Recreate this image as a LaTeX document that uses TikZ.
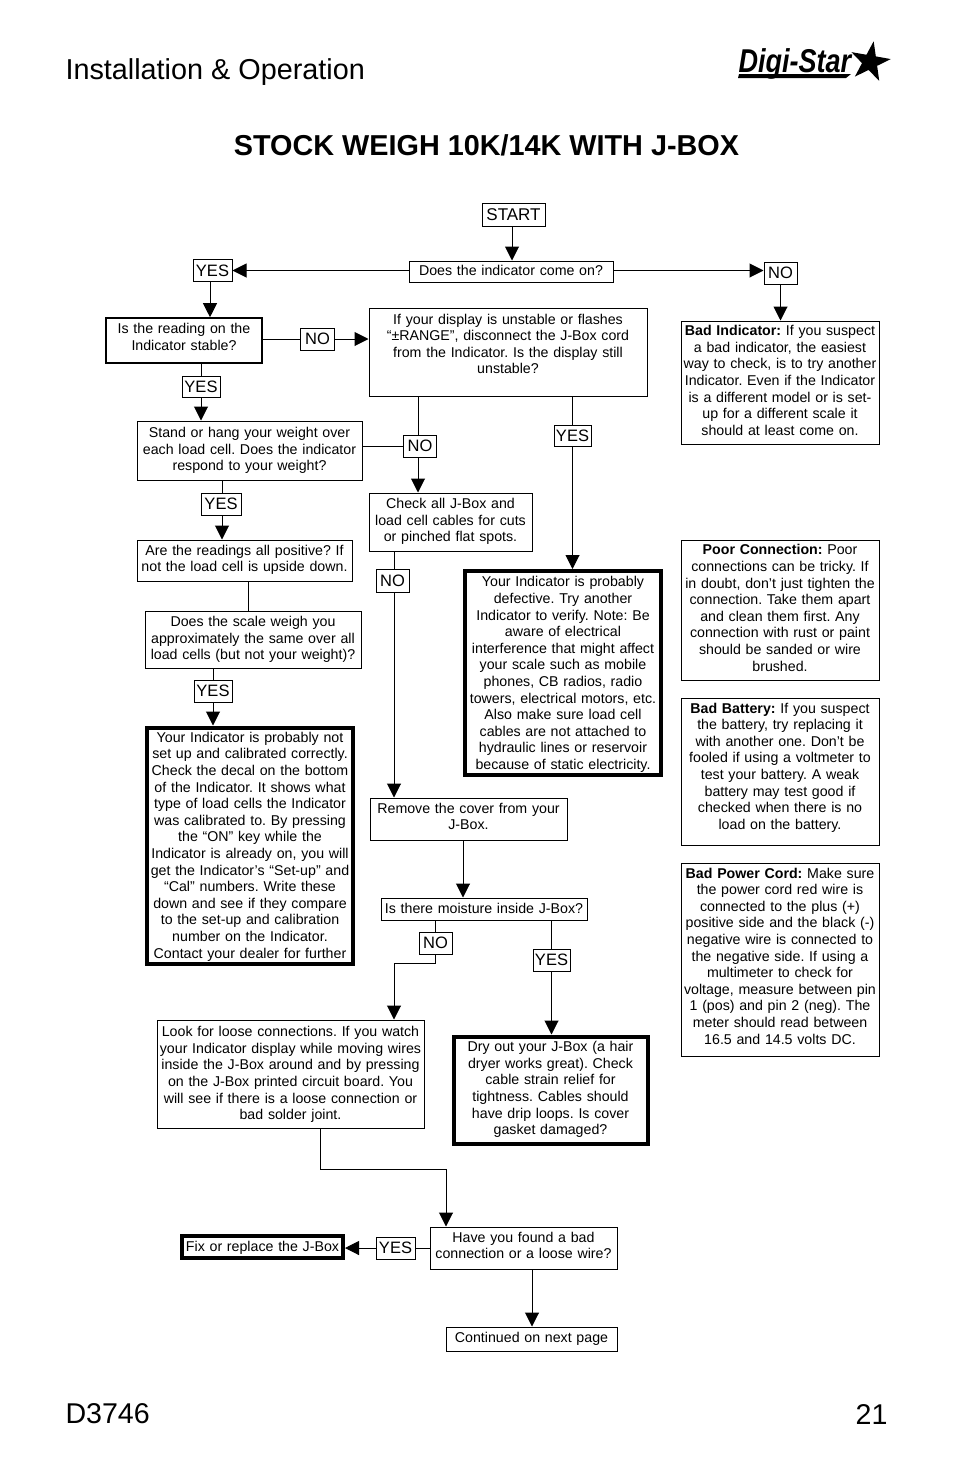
\documentclass[tikz,border=0pt]{standalone}
\usepackage{fontspec}
\usepackage{graphicx}
\setmainfont{Liberation Sans}
\usetikzlibrary{arrows.meta, shapes.geometric}
\newcommand{\upby}[1]{\par\kern#1pt}
\tikzset{
  flow/.style 2 args={draw, line width=1pt, inner sep=0pt, align=center, text width=#1pt,
    minimum width=#1pt, minimum height=#2pt, font=\fontsize{14.2}{16.6}\selectfont\frenchspacing},
  heavy/.style={line width=4pt},
  answer/.style 2 args={draw, line width=1pt, inner sep=0pt, fill=white,
    minimum width=#1pt, minimum height=#2pt, font=\fontsize{16.5}{20}\selectfont},
}
\begin{document}
\begin{tikzpicture}[x=1pt, y=-1pt, >={Triangle[length=14pt, width=14pt]}, line width=1pt]
  \useasboundingbox (0,0) rectangle (954,1475);
  % page furniture
  \node[anchor=west, inner sep=0pt, font=\fontsize{28.8}{32}\selectfont]  (head)  at (65,72)    {Installation \& Operation};
  \node[inner sep=0pt, font=\fontsize{28.8}{32}\selectfont\bfseries]      (title) at (486.5,145)  {STOCK WEIGH 10K/14K WITH J-BOX};
  \node[anchor=west, inner sep=0pt, font=\fontsize{28.6}{34}\selectfont]  (docno) at (65,1414)  {D3746};
  \node[anchor=east, inner sep=0pt, font=\fontsize{28.6}{34}\selectfont]  (pageno) at (888,1414) {21};
  \node[anchor=west, inner sep=0pt, font=\fontsize{33}{34}\selectfont\bfseries\itshape] (logo) at (738,64) {\scalebox{0.82}[1]{Digi-Star}};
  \node[star, star points=5, star point ratio=2.6, fill=black, inner sep=0pt, minimum size=42pt, rotate=-10] (logostar) at (870,62) {};
  \fill (739,74) -- (851,74) -- (846,78) -- (738,78) -- cycle;

  \node[flow={63}{23}] (start) at (513.5,214.5) {\fontsize{17}{20}\selectfont START};
  \node[flow={204}{21}] (comeon) at (511,271.5) {Does the indicator come on?\upby{2}};
  \node[flow={156}{45}, line width=1.6pt] (stable) at (184,340.5) {Is the reading on the\\Indicator stable?\upby{7}};
  \node[flow={278}{88}] (display) at (508,352) {If your display is unstable or flashes\\“±RANGE”, disconnect the J-Box cord\\from the Indicator. Is the display still\\unstable?\upby{16}};
  \node[flow={198}{123}] (badind) at (780,382.5) {\textbf{Bad Indicator:} If you suspect\\a bad indicator, the easiest\\way to check, is to try another\\Indicator. Even if the Indicator\\is a different model or is set-\\up for a different scale it\\should at least come on.\upby{4}};
  \node[flow={225}{59}] (stand) at (249.5,450.5) {Stand or hang your weight over\\each load cell. Does the indicator\\respond to your weight?\upby{0}};
  \node[flow={163}{58}] (cables) at (450.5,522) {Check all J-Box and\\load cell cables for cuts\\or pinched flat spots.\upby{1}};
  \node[flow={215}{41}] (positive) at (244.5,560.5) {Are the readings all positive? If\\not the load cell is upside down.\upby{1}};
  \node[flow={196}{204}, heavy] (defect) at (563,673) {Your Indicator is probably\\defective. Try another\\Indicator to verify. Note: Be\\aware of electrical\\interference that might affect\\your scale such as mobile\\phones, CB radios, radio\\towers, electrical motors, etc.\\Also make sure load cell\\cables are not attached to\\hydraulic lines or reservoir\\because of static electricity.\upby{-3}};
  \node[flow={198}{140}] (poor) at (780,610) {\textbf{Poor Connection:} Poor\\connections can be tricky. If\\in doubt, don’t just tighten the\\connection. Take them apart\\and clean them first. Any\\connection with rust or paint\\should be sanded or wire\\brushed.\upby{4}};
  \node[flow={216}{57}] (weigh) at (253,639.5) {Does the scale weigh you\\approximately the same over all\\load cells (but not your weight)?\upby{0}};
  \node[flow={206}{236}, heavy] (calib) at (250,845.5) {Your Indicator is probably not\\set up and calibrated correctly.\\Check the decal on the bottom\\of the Indicator. It shows what\\type of load cells the Indicator\\was calibrated to. By pressing\\the “ON” key while the\\Indicator is already on, you will\\get the Indicator’s “Set-up” and\\“Cal” numbers. Write these\\down and see if they compare\\to the set-up and calibration\\number on the Indicator.\\Contact your dealer for further\upby{-2}};
  \node[flow={198}{147}] (battery) at (780,771.5) {\textbf{Bad Battery:} If you suspect\\the battery, try replacing it\\with another one. Don’t be\\fooled if using a voltmeter to\\test your battery. A weak\\battery may test good if\\checked when there is no\\load on the battery.\upby{8}};
  \node[flow={197}{42}] (cover) at (468.5,819) {Remove the cover from your\\J-Box.\upby{5}};
  \node[flow={206}{22}] (moisture) at (484,909) {Is there moisture inside J-Box?\upby{1}};
  \node[flow={198}{193}] (cord) at (780,959.5) {\textbf{Bad Power Cord:} Make sure\\the power cord red wire is\\connected to the plus (+)\\positive side and the black (-)\\negative wire is connected to\\the negative side. If using a\\multimeter to check for\\voltage, measure between pin\\1 (pos) and pin 2 (neg). The\\meter should read between\\16.5 and 14.5 volts DC.\upby{7}};
  \node[flow={267}{108}] (loose) at (290.5,1074) {Look for loose connections. If you watch\\your Indicator display while moving wires\\inside the J-Box around and by pressing\\on the J-Box printed circuit board. You\\will see if there is a loose connection or\\bad solder joint.\upby{-1}};
  \node[flow={194}{107}, heavy] (dry) at (550.5,1090) {Dry out your J-Box (a hair\\dryer works great). Check\\cable strain relief for\\tightness. Cables should\\have drip loops. Is cover\\gasket damaged?\upby{1}};
  \node[flow={187}{42}] (found) at (523.5,1248) {Have you found a bad\\connection or a loose wire?\upby{5}};
  \node[flow={161}{22}, heavy] (fix) at (262.5,1246.5) {Fix or replace the J-Box\upby{-2}};
  \node[flow={171}{24}] (next) at (531.5,1339) {Continued on next page\upby{1}};

  \node[answer={39}{22}] (yesa) at (212.5,270.5) {YES};
  \node[answer={33}{22}] (noa)  at (780.5,273) {NO};
  \node[answer={34}{22}] (nob)  at (317.5,339) {NO};
  \node[answer={38}{21}] (yesb) at (201,386.5) {YES};
  \node[answer={33}{22}] (noc)  at (420,446) {NO};
  \node[answer={37}{21}] (yesc) at (572.5,435.5) {YES};
  \node[answer={40}{22}] (yesd) at (221,504) {YES};
  \node[answer={33}{23}] (nod)  at (392.5,580.5) {NO};
  \node[answer={38}{22}] (yese) at (213,691) {YES};
  \node[answer={33}{22}] (noe)  at (435.5,943) {NO};
  \node[answer={37}{22}] (yesf) at (551.5,960) {YES};
  \node[answer={39}{22}] (yesg) at (395.5,1248) {YES};

  \coordinate (bend) at (394,963);
  \coordinate (drop) at (320,1169);

  \draw[->] (start.south -| 512,0) -- (comeon.north -| 512,0);
  \draw[->] (comeon.west |- yesa) -- (yesa);
  \draw[->] (comeon.east |- yesa) -- (noa.west |- yesa);
  \draw[->] (yesa.south -| 210,0) -- (stable.north -| 210,0);
  \draw[->] (noa) -- (noa |- badind.north);
  \draw (stable.east |- nob) -- (nob);
  \draw[->] (nob) -- (display.west |- nob);
  \draw (stable.south -| yesb) -- (yesb);
  \draw[->] (yesb) -- (yesb |- stand.north);
  \draw (display.south -| 418,0) -- (noc.north -| 418,0);
  \draw[->] (noc.south -| 418,0) -- (cables.north -| 418,0);
  \draw (stand.east |- noc) -- (noc.west);
  \draw (display.south -| yesc) -- (yesc);
  \draw[->] (yesc) -- (yesc |- defect.north);
  \draw (stand.south -| 222,0) -- (yesd.north -| 222,0);
  \draw[->] (yesd.south -| 222,0) -- (positive.north -| 222,0);
  \draw (positive.south -| 248,0) -- (weigh.north -| 248,0);
  \draw (weigh.south -| yese) -- (yese);
  \draw[->] (yese) -- (yese |- calib.north);
  \draw (cables.south -| 394,0) -- (nod.north -| 394,0);
  \draw[->] (nod.south -| 394,0) -- (cover.north -| 394,0);
  \draw[->] (cover.south -| 463,0) -- (moisture.north -| 463,0);
  \draw (moisture.south -| noe) -- (noe);
  \draw[->] (noe) |- (bend) -- (bend |- loose.north);
  \draw (moisture.south -| yesf) -- (yesf);
  \draw[->] (yesf) -- (yesf |- dry.north);
  \draw[->] (loose.south -| drop) -- (drop) -| (found.north -| 446,0);
  \draw (found.west) -- (yesg);
  \draw[->] (yesg) -- (fix.east |- yesg);
  \draw[->] (found.south -| 532,0) -- (next.north -| 532,0);
\end{tikzpicture}
\end{document}
